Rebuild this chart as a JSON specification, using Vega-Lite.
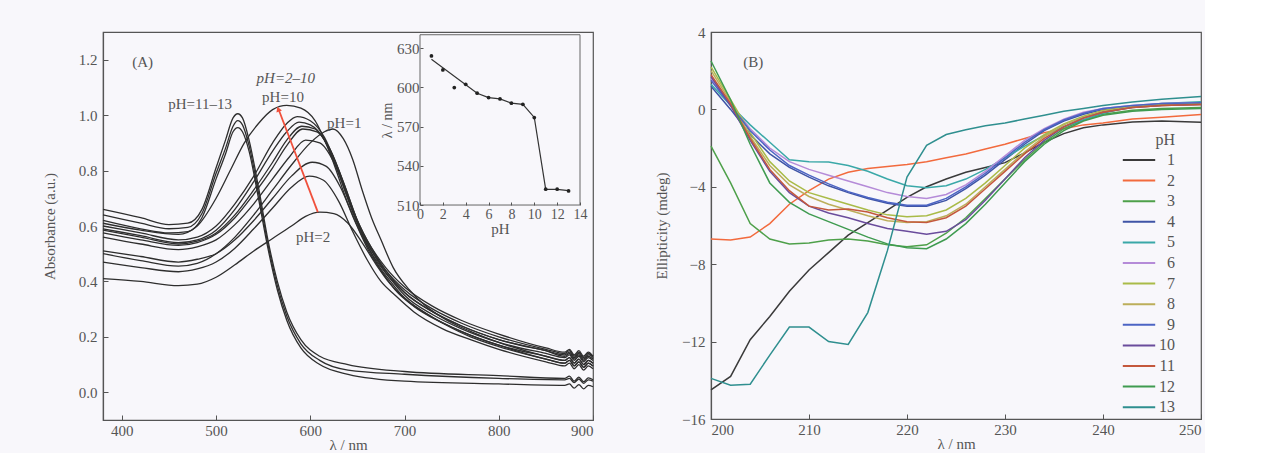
{
  "$schema": "https://vega.github.io/schema/vega-lite/v6.json",
  "background": "#f8f7fb",
  "padding": {"left": 41, "top": 24, "right": 0, "bottom": 0},
  "bounds": "flush",
  "spacing": 118,
  "config": {
    "font": "Liberation Serif",
    "view": {"stroke": "#555", "strokeWidth": 1.2, "fill": "#f8f7fb"},
    "axis": {"domainColor": "#555", "domainWidth": 1.2, "tickColor": "#555", "labelColor": "#555", "titleColor": "#555", "labelFontSize": 15, "titleFontSize": 15, "titleFontWeight": "normal", "labelFont": "Liberation Serif", "titleFont": "Liberation Serif", "grid": false, "tickSize": -5, "labelPadding": 11},
    "axisX": {"labelPadding": 8},
    "legend": {"labelFont": "Liberation Serif", "titleFont": "Liberation Serif", "labelFontSize": 16, "titleFontSize": 16, "titleFontWeight": "normal", "labelColor": "#555", "titleColor": "#555"},
    "text": {"font": "Liberation Serif"}
  },
  "datasets": {
    "uv": [
      {"pH": 1, "nm": [380,420,460,480,500,520,540,560,580,600,615,624,635,645,655,665,675,688,705,740,770,800,850,870,875,880,885,890,895,900], "A": [0.50,0.475,0.455,0.465,0.50,0.56,0.64,0.73,0.82,0.90,0.94,0.95,0.915,0.84,0.73,0.63,0.55,0.45,0.37,0.27,0.22,0.18,0.13,0.115,0.125,0.105,0.12,0.10,0.115,0.105]},
      {"pH": 2, "nm": [380,420,460,480,500,520,540,560,580,595,610,625,640,655,670,685,700,730,760,800,850,870,875,880,885,890,895,900], "A": [0.41,0.40,0.385,0.39,0.415,0.46,0.51,0.555,0.60,0.635,0.65,0.645,0.61,0.54,0.46,0.39,0.34,0.27,0.22,0.17,0.12,0.105,0.115,0.095,0.11,0.09,0.105,0.095]},
      {"pH": 3, "nm": [380,420,460,480,500,520,540,560,580,599,614,630,645,660,675,690,710,740,770,800,850,870,875,880,885,890,895,900], "A": [0.47,0.45,0.435,0.445,0.47,0.52,0.59,0.665,0.74,0.78,0.765,0.69,0.58,0.48,0.40,0.35,0.29,0.23,0.19,0.155,0.11,0.095,0.105,0.085,0.10,0.08,0.095,0.085]},
      {"pH": 4, "nm": [380,420,460,480,500,520,540,560,580,602,617,632,647,662,677,690,710,740,770,800,850,870,875,880,885,890,895,900], "A": [0.51,0.49,0.47,0.48,0.50,0.55,0.62,0.70,0.78,0.83,0.815,0.74,0.62,0.51,0.43,0.37,0.31,0.25,0.20,0.165,0.12,0.105,0.115,0.095,0.11,0.09,0.105,0.095]},
      {"pH": 5, "nm": [380,420,460,480,500,520,540,560,578,595,610,625,640,655,670,685,700,730,760,800,850,870,875,880,885,890,895,900], "A": [0.56,0.535,0.515,0.525,0.55,0.605,0.68,0.77,0.85,0.91,0.90,0.83,0.70,0.57,0.47,0.40,0.34,0.27,0.22,0.17,0.13,0.115,0.125,0.105,0.12,0.10,0.115,0.105]},
      {"pH": 6, "nm": [380,420,460,480,500,520,540,560,575,592,607,622,637,652,667,685,700,730,760,800,850,870,875,880,885,890,895,900], "A": [0.575,0.55,0.53,0.54,0.57,0.63,0.715,0.81,0.89,0.95,0.94,0.87,0.74,0.60,0.50,0.41,0.35,0.28,0.23,0.18,0.14,0.125,0.135,0.115,0.13,0.11,0.125,0.115]},
      {"pH": 7, "nm": [380,420,460,480,500,520,540,560,575,591,605,620,635,650,665,680,700,730,760,800,850,870,875,880,885,890,895,900], "A": [0.585,0.56,0.535,0.545,0.575,0.64,0.73,0.83,0.91,0.96,0.95,0.88,0.76,0.62,0.52,0.44,0.36,0.29,0.24,0.19,0.15,0.13,0.14,0.12,0.135,0.115,0.13,0.12]},
      {"pH": 8, "nm": [380,420,460,480,500,520,540,560,575,588,600,615,630,645,660,680,700,730,760,800,850,870,875,880,885,890,895,900], "A": [0.59,0.565,0.54,0.55,0.585,0.66,0.76,0.87,0.94,0.975,0.965,0.91,0.79,0.65,0.54,0.44,0.37,0.30,0.25,0.20,0.155,0.14,0.15,0.13,0.145,0.125,0.14,0.125]},
      {"pH": 9, "nm": [380,420,460,480,500,520,540,560,575,586,600,615,630,645,660,680,700,730,760,800,850,870,875,880,885,890,895,900], "A": [0.60,0.575,0.55,0.56,0.60,0.68,0.78,0.90,0.97,0.995,0.98,0.92,0.80,0.66,0.55,0.45,0.38,0.31,0.26,0.21,0.16,0.145,0.155,0.135,0.15,0.13,0.145,0.13]},
      {"pH": 10, "nm": [380,420,460,480,500,515,530,545,560,575,590,605,620,640,660,680,700,730,760,800,850,870,875,880,885,890,895,900], "A": [0.61,0.585,0.57,0.60,0.70,0.80,0.90,0.97,1.02,1.035,1.025,0.98,0.87,0.68,0.53,0.43,0.36,0.29,0.24,0.19,0.15,0.135,0.145,0.125,0.14,0.12,0.135,0.13]},
      {"pH": 11, "nm": [380,420,450,470,485,500,510,518,523,528,535,545,555,565,575,590,610,640,700,800,870,875,880,885,890,895,900], "A": [0.62,0.59,0.575,0.58,0.63,0.77,0.86,0.94,0.955,0.94,0.87,0.70,0.52,0.37,0.26,0.16,0.10,0.065,0.04,0.03,0.025,0.03,0.015,0.028,0.012,0.025,0.02]},
      {"pH": 12, "nm": [380,420,450,470,485,500,510,518,523,528,535,545,555,565,575,590,610,640,700,800,870,875,880,885,890,895,900], "A": [0.64,0.61,0.59,0.595,0.645,0.79,0.88,0.96,0.98,0.965,0.89,0.72,0.535,0.385,0.275,0.175,0.115,0.08,0.065,0.05,0.045,0.05,0.035,0.048,0.032,0.045,0.04]},
      {"pH": 13, "nm": [380,420,450,470,485,500,510,518,523,528,535,545,555,565,575,590,610,640,700,800,870,875,880,885,890,895,900], "A": [0.66,0.63,0.605,0.61,0.66,0.81,0.91,0.99,1.005,0.99,0.91,0.74,0.55,0.40,0.29,0.19,0.13,0.10,0.075,0.06,0.05,0.058,0.04,0.055,0.038,0.052,0.045]}
    ],
    "lmax": [
      {"pH": 1, "lam": 624.1}, {"pH": 2, "lam": 613.4}, {"pH": 3, "lam": 599.9}, {"pH": 4, "lam": 602.4},
      {"pH": 5, "lam": 595.6}, {"pH": 6, "lam": 592.2}, {"pH": 7, "lam": 591.2}, {"pH": 8, "lam": 587.9},
      {"pH": 9, "lam": 587.1}, {"pH": 10, "lam": 576.9}, {"pH": 11, "lam": 522.1}, {"pH": 12, "lam": 522.1}, {"pH": 13, "lam": 520.8}
    ],
    "fit": [
      {"pH": 1, "lam": 621.5}, {"pH": 5, "lam": 595.5}, {"pH": 6, "lam": 592.2}, {"pH": 7, "lam": 591.2},
      {"pH": 8, "lam": 588}, {"pH": 9, "lam": 587}, {"pH": 10, "lam": 577}, {"pH": 11, "lam": 522},
      {"pH": 12, "lam": 522}, {"pH": 13, "lam": 521}
    ],
    "cd": [
      {"pH": 1, "nm": [200,202,204,206,208,210,212,214,216,218,220,222,224,226,228,230,232,234,236,238,240,243,246,250], "E": [-14.5,-13.8,-11.9,-10.7,-9.4,-8.3,-7.4,-6.5,-5.85,-5.2,-4.55,-4.0,-3.6,-3.25,-3.0,-2.75,-2.25,-1.7,-1.25,-0.95,-0.8,-0.65,-0.6,-0.67]},
      {"pH": 2, "nm": [200,202,204,206,208,210,212,214,216,218,220,222,224,226,228,230,232,234,236,238,240,243,246,250], "E": [-6.7,-6.75,-6.6,-5.9,-4.9,-4.2,-3.6,-3.25,-3.05,-2.95,-2.85,-2.7,-2.5,-2.3,-2.05,-1.8,-1.5,-1.2,-1.0,-0.8,-0.7,-0.5,-0.4,-0.26]},
      {"pH": 3, "nm": [200,202,204,206,208,210,212,214,216,218,220,222,224,226,228,230,232,234,236,238,240,243,246,250], "E": [-1.9,-3.8,-5.9,-6.7,-6.95,-6.9,-6.75,-6.7,-6.8,-7.0,-7.1,-7.0,-6.4,-5.6,-4.6,-3.6,-2.6,-1.7,-1.0,-0.55,-0.25,-0.05,0.05,0.1]},
      {"pH": 4, "nm": [200,202,204,206,208,210,212,214,216,218,220,222,224,226,228,230,232,234,236,238,240,243,246,250], "E": [1.2,0.0,-1.3,-2.3,-3.0,-3.5,-3.95,-4.3,-4.6,-4.85,-5.0,-5.0,-4.7,-4.1,-3.4,-2.6,-1.8,-1.1,-0.6,-0.25,0.0,0.15,0.25,0.3]},
      {"pH": 5, "nm": [200,202,204,206,208,210,212,214,216,218,220,222,224,226,228,230,232,234,236,238,240,243,246,250], "E": [1.3,0.2,-0.8,-1.7,-2.6,-2.7,-2.72,-2.9,-3.2,-3.6,-3.95,-4.05,-3.95,-3.6,-3.1,-2.5,-1.9,-1.35,-0.9,-0.55,-0.2,0.15,0.3,0.4]},
      {"pH": 6, "nm": [200,202,204,206,208,210,212,214,216,218,220,222,224,226,228,230,232,234,236,238,240,243,246,250], "E": [1.6,0.3,-1.0,-2.0,-2.7,-3.1,-3.4,-3.7,-4.0,-4.3,-4.5,-4.6,-4.4,-3.9,-3.2,-2.4,-1.6,-1.0,-0.5,-0.15,0.05,0.2,0.3,0.35]},
      {"pH": 7, "nm": [200,202,204,206,208,210,212,214,216,218,220,222,224,226,228,230,232,234,236,238,240,243,246,250], "E": [2.2,0.5,-1.2,-2.7,-3.7,-4.3,-4.6,-4.9,-5.2,-5.45,-5.55,-5.5,-5.2,-4.6,-3.8,-2.9,-2.0,-1.3,-0.75,-0.35,-0.05,0.15,0.25,0.3]},
      {"pH": 8, "nm": [200,202,204,206,208,210,212,214,216,218,220,222,224,226,228,230,232,234,236,238,240,243,246,250], "E": [2.0,0.4,-1.4,-2.9,-3.9,-4.5,-4.9,-5.2,-5.5,-5.75,-5.85,-5.8,-5.5,-4.9,-4.0,-3.1,-2.2,-1.4,-0.8,-0.4,-0.1,0.1,0.2,0.25]},
      {"pH": 9, "nm": [200,202,204,206,208,210,212,214,216,218,220,222,224,226,228,230,232,234,236,238,240,243,246,250], "E": [1.5,0.2,-1.1,-2.1,-2.9,-3.4,-3.85,-4.25,-4.55,-4.8,-4.95,-4.95,-4.6,-4.0,-3.3,-2.5,-1.7,-1.05,-0.55,-0.2,0.05,0.2,0.3,0.35]},
      {"pH": 10, "nm": [200,202,204,206,208,210,212,214,216,218,220,222,224,226,228,230,232,234,236,238,240,243,246,250], "E": [1.7,0.2,-1.6,-3.2,-4.3,-5.0,-5.35,-5.6,-5.9,-6.15,-6.3,-6.45,-6.3,-5.7,-4.7,-3.6,-2.5,-1.6,-0.9,-0.45,-0.15,0.1,0.2,0.25]},
      {"pH": 11, "nm": [200,202,204,206,208,210,212,214,216,218,220,222,224,226,228,230,232,234,236,238,240,243,246,250], "E": [1.8,0.3,-1.5,-3.1,-4.2,-5.0,-5.2,-5.15,-5.3,-5.6,-5.8,-5.85,-5.6,-5.0,-4.1,-3.2,-2.3,-1.5,-0.9,-0.45,-0.15,0.1,0.2,0.25]},
      {"pH": 12, "nm": [200,202,204,206,208,210,212,214,216,218,220,222,224,226,228,230,232,234,236,238,240,243,246,250], "E": [2.5,0.5,-1.8,-3.8,-4.8,-5.4,-5.8,-6.2,-6.6,-6.95,-7.15,-7.2,-6.7,-5.9,-4.9,-3.8,-2.7,-1.8,-1.1,-0.6,-0.3,-0.1,0.0,0.05]},
      {"pH": 13, "nm": [200,202,204,206,208,210,212,214,216,218,220,222,224,226,228,230,232,234,236,238,240,243,246,250], "E": [-13.9,-14.25,-14.2,-12.7,-11.25,-11.25,-12.0,-12.15,-10.5,-7.3,-3.5,-1.86,-1.3,-1.05,-0.85,-0.7,-0.5,-0.3,-0.1,0.05,0.2,0.38,0.52,0.67]}
    ]
  },
  "hconcat": [
    {
      "width": 490,
      "height": 388,
      "layer": [
        {
          "layer": [
            {
              "data": {"name": "uv"},
              "transform": [{"flatten": ["nm", "A"]}],
              "mark": {"type": "line", "interpolate": "monotone", "strokeWidth": 1.3, "color": "#2e2e2e"},
              "encoding": {
                "x": {"field": "nm", "type": "quantitative", "scale": {"domain": [380, 900], "nice": false, "zero": false},
                      "axis": {"title": "λ / nm", "orient": "bottom", "values": [400, 500, 600, 700, 800, 900], "titlePadding": -1}},
                "y": {"field": "A", "type": "quantitative", "scale": {"domain": [-0.1, 1.3], "nice": false, "zero": false},
                      "axis": {"title": "Absorbance (a.u.)", "orient": "left", "values": [0, 0.2, 0.4, 0.6, 0.8, 1.0, 1.2], "format": ".1f", "titlePadding": 21}},
                "detail": {"field": "pH", "type": "nominal"}
              }
            },
            {
              "data": {"values": [
                {"label": "(A)", "nm": 422, "A": 1.19},
                {"label": "pH=11–13", "nm": 483, "A": 1.04},
                {"label": "pH=10", "nm": 571, "A": 1.065},
                {"label": "pH=1", "nm": 636, "A": 0.97},
                {"label": "pH=2", "nm": 603, "A": 0.56}
              ]},
              "mark": {"type": "text", "fontSize": 15, "color": "#555", "align": "center", "baseline": "middle"},
              "encoding": {
                "x": {"field": "nm", "type": "quantitative"},
                "y": {"field": "A", "type": "quantitative"},
                "text": {"field": "label"}
              }
            },
            {
              "data": {"values": [{"label": "pH=2–10", "nm": 574, "A": 1.134}]},
              "mark": {"type": "text", "fontSize": 15, "fontStyle": "italic", "color": "#555", "align": "center", "baseline": "middle"},
              "encoding": {
                "x": {"field": "nm", "type": "quantitative"},
                "y": {"field": "A", "type": "quantitative"},
                "text": {"field": "label"}
              }
            },
            {
              "data": {"values": [{"nm": 608, "A": 0.65, "nm2": 567, "A2": 1.015}]},
              "mark": {"type": "rule", "color": "#f0503c", "strokeWidth": 1.8},
              "encoding": {
                "x": {"field": "nm", "type": "quantitative"},
                "y": {"field": "A", "type": "quantitative"},
                "x2": {"field": "nm2"},
                "y2": {"field": "A2"}
              }
            },
            {
              "data": {"values": [{"nm": 566, "A": 1.022}]},
              "mark": {"type": "point", "shape": "triangle-up", "filled": true, "color": "#f0503c", "size": 35, "angle": 339, "opacity": 1},
              "encoding": {
                "x": {"field": "nm", "type": "quantitative"},
                "y": {"field": "A", "type": "quantitative"}
              }
            }
          ]
        },
        {
          "layer": [
            {
              "data": {"values": [{}]},
              "mark": {"type": "rect", "fill": null, "fillOpacity": 0, "stroke": "#666", "strokeWidth": 1},
              "encoding": {
                "x": {"datum": 0, "type": "quantitative", "scale": {"domain": [-27.7375, 15.1375], "nice": false, "zero": false},
                      "axis": {"title": "pH", "orient": "bottom", "offset": -215, "values": [0, 2, 4, 6, 8, 10, 12, 14], "domain": false, "tickSize": -3, "labelPadding": 5, "labelFontSize": 14, "titleFontSize": 15, "titlePadding": 0, "titleX": 397, "zindex": 1}},
                "x2": {"datum": 14},
                "y": {"datum": 510, "type": "quantitative", "scale": {"domain": [345.5, 642.4], "nice": false, "zero": false},
                      "axis": {"title": "λ / nm", "orient": "left", "offset": -317, "values": [510, 540, 570, 600, 630], "domain": false, "tickSize": -3, "labelPadding": 4, "labelFontSize": 15, "titleFontSize": 14, "titlePadding": 2, "titleY": 88, "zindex": 1}},
                "y2": {"datum": 640.3}
              }
            },
            {
              "data": {"name": "fit"},
              "mark": {"type": "line", "color": "#333", "strokeWidth": 1.2},
              "encoding": {
                "x": {"field": "pH", "type": "quantitative"},
                "y": {"field": "lam", "type": "quantitative"}
              }
            },
            {
              "data": {"name": "lmax"},
              "mark": {"type": "circle", "color": "#222", "size": 14, "opacity": 1},
              "encoding": {
                "x": {"field": "pH", "type": "quantitative"},
                "y": {"field": "lam", "type": "quantitative"}
              }
            }
          ]
        }
      ],
      "resolve": {"scale": {"x": "independent", "y": "independent"}, "axis": {"x": "independent", "y": "independent"}}
    },
    {
      "width": 490,
      "height": 387,
      "layer": [
        {
          "data": {"name": "cd"},
          "transform": [{"flatten": ["nm", "E"]}],
          "mark": {"type": "line", "strokeWidth": 1.5},
          "encoding": {
            "x": {"field": "nm", "type": "quantitative", "scale": {"domain": [200, 250], "nice": false, "zero": false},
                  "axis": {"title": "λ / nm", "values": [200, 210, 220, 230, 240, 250], "titlePadding": -1}},
            "y": {"field": "E", "type": "quantitative", "scale": {"domain": [-16, 4], "nice": false, "zero": false},
                  "axis": {"title": "Ellipticity (mdeg)", "values": [4, 0, -4, -8, -12, -16], "titlePadding": 12}},
            "color": {"field": "pH", "type": "ordinal",
                      "scale": {"domain": [1, 2, 3, 4, 5, 6, 7, 8, 9, 10, 11, 12, 13],
                                "range": ["#3a3a3a", "#f26a3d", "#4ea04a", "#3f54a6", "#3aa8a8", "#b58bd8", "#a9bb48", "#bcae5a", "#4c64c4", "#6a4c9c", "#c4583c", "#3f9b50", "#2f8f8f"]},
                      "legend": {"title": "pH", "orient": "none", "legendX": 1026, "legendY": 100, "padding": 0, "titleAnchor": "end", "symbolType": "M-1.8,0H1.8", "symbolSize": 324, "symbolStrokeWidth": 2, "rowPadding": 2.6, "labelAlign": "right", "labelOffset": 26, "titlePadding": 2}}
          }
        },
        {
          "data": {"values": [{"label": "(B)", "nm": 204.3, "E": 2.43}]},
          "mark": {"type": "text", "fontSize": 15, "color": "#555", "align": "center", "baseline": "middle"},
          "encoding": {
            "x": {"field": "nm", "type": "quantitative"},
            "y": {"field": "E", "type": "quantitative"},
            "text": {"field": "label"}
          }
        }
      ]
    }
  ]
}
